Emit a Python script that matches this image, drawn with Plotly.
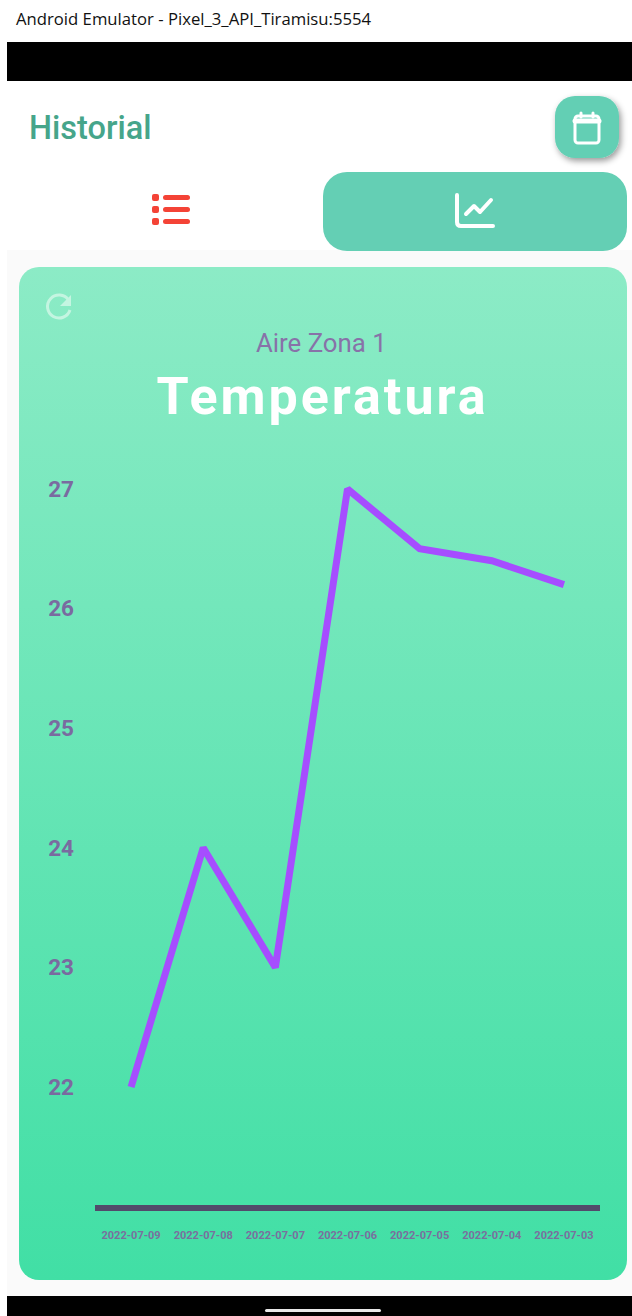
import base64
import plotly.graph_objects as go

W, H = 632, 1316

dates = ["2022-07-09", "2022-07-08", "2022-07-07", "2022-07-06",
         "2022-07-05", "2022-07-04", "2022-07-03"]
temps = [22, 24, 23, 27, 26.5, 26.4, 26.2]
y_ticks = [22, 23, 24, 25, 26, 27]
window_title = "Android Emulator - Pixel_3_API_Tiramisu:5554"
page_title = "Historial"
subtitle = "Aire Zona 1"
chart_title = "Temperatura"

TEAL = "#64cfb4"
svg = f"""<svg xmlns="http://www.w3.org/2000/svg" width="{W}" height="{H}" viewBox="0 0 {W} {H}">
<defs>
<linearGradient id="g" x1="0" y1="0" x2="0" y2="1"><stop offset="0" stop-color="#8cebc6"/><stop offset="1" stop-color="#41dfa5"/></linearGradient>
<filter id="s" x="-30%" y="-30%" width="160%" height="160%"><feDropShadow dx="2" dy="3" stdDeviation="3" flood-color="#000" flood-opacity="0.4"/></filter>
</defs>
<rect width="{W}" height="{H}" fill="#ffffff"/>
<rect x="7" y="42" width="625" height="39" fill="#000"/>
<rect x="7" y="250" width="625" height="1047" fill="#fafafa"/>
<rect x="7" y="1296" width="625" height="20" fill="#000"/>
<rect x="265" y="1309" width="116" height="3" rx="1.5" fill="#e8e8e8"/>
<rect x="19" y="267" width="608" height="1013" rx="20" fill="url(#g)"/>
<rect x="555" y="96" width="64" height="62" rx="20" fill="{TEAL}" filter="url(#s)"/>
<g fill="none" stroke="#fff" stroke-width="3" stroke-linecap="round" stroke-linejoin="round">
<rect x="575" y="116" width="24" height="27" rx="3"/>
<path d="M575 121 H599" stroke-width="5"/>
<path d="M581 113 V117 M593 113 V117"/>
</g>
<rect x="323" y="172" width="304" height="79" rx="24" fill="{TEAL}"/>
<g fill="none" stroke="#fff" stroke-width="4" stroke-linecap="round" stroke-linejoin="round">
<path d="M457 195 V222 Q457 226 461 226 H493"/>
<path d="M466 214 L474 206 L480 212 L491 200"/>
</g>
<g fill="#f44336">
<rect x="152" y="194" width="7" height="7" rx="2"/><rect x="152" y="206" width="7" height="7" rx="2"/><rect x="152" y="218" width="7" height="7" rx="2"/>
<rect x="163" y="195" width="27" height="5" rx="2.5"/><rect x="163" y="207" width="27" height="5" rx="2.5"/><rect x="163" y="219" width="27" height="5" rx="2.5"/>
</g>
<g fill="none" stroke="#c4f5e1" stroke-width="3">
<path d="M68.5 300 A11.5 11.5 0 1 0 70 310"/>
</g>
<path d="M71 295 V306 H60 Z" fill="#c4f5e1"/>
</svg>"""
bg = "data:image/svg+xml;base64," + base64.b64encode(svg.encode()).decode()

PURPLE_TXT = "#7a6aa0"
# pixel frame of the plot area
L, R, T, B = 95, 600, 440, 1205
px_per_unit = 119.6
y0 = 22 - (B - 1087) / px_per_unit
y1 = 27 + (489 - T) / px_per_unit

fig = go.Figure(go.Scatter(
    x=dates, y=temps, mode="lines",
    line=dict(color="#a64dff", width=7),
    hoverinfo="skip", cliponaxis=False,
))


def ann(text, x, y, size, color, family="Roboto", anchor="center", weight="normal"):
    fig.add_annotation(text=text, x=x / W, y=1 - y / H, xref="paper", yref="paper",
                       xanchor=anchor, yanchor="middle", showarrow=False,
                       font=dict(family=family, size=size, color=color, weight=weight))


ann(window_title, 14, 19, 16.7, "#111111", family="Open Sans", anchor="left")
ann(page_title, 27, 128, 32.5, "#46a58a", anchor="left", weight=500)
ann(subtitle, 321, 343, 25.8, "#8872a8")
ann(chart_title, 322, 396, 52, "#ffffff", weight="bold")

fig.update_layout(
    width=W, height=H, autosize=False,
    margin=dict(l=0, r=0, t=0, b=0),
    paper_bgcolor="#ffffff", plot_bgcolor="rgba(0,0,0,0)",
    showlegend=False,
    images=[dict(source=bg, xref="paper", yref="paper", x=0, y=1, sizex=1, sizey=1,
                 xanchor="left", yanchor="top", sizing="stretch", layer="below")],
    xaxis=dict(domain=[L / W, R / W], type="category", categoryorder="array", categoryarray=dates,
               range=[-0.5, 6.5], showgrid=False, zeroline=False,
               showline=True, linecolor="#524a6b", linewidth=6, ticks="",
               ticklabelstandoff=15, tickangle=0,
               tickfont=dict(family="Roboto", size=11, color="#7a6f9e", weight="bold")),
    yaxis=dict(domain=[1 - B / H, 1 - T / H], range=[y0, y1], tickmode="array", tickvals=y_ticks,
               showgrid=False, zeroline=False, showline=False, ticks="",
               ticklabelstandoff=20,
               tickfont=dict(family="Roboto", size=22.5, color=PURPLE_TXT, weight="bold")),
)

post = """
document.documentElement.style.margin='0';
document.body.style.margin='0';
document.body.style.overflow='hidden';
document.querySelectorAll('.annotation-text').forEach(function(t){
  if(t.textContent==='Temperatura'){t.style.letterSpacing='3px';}
});
"""
fig.write_html("out.html", post_script=post, config={"displayModeBar": False})
